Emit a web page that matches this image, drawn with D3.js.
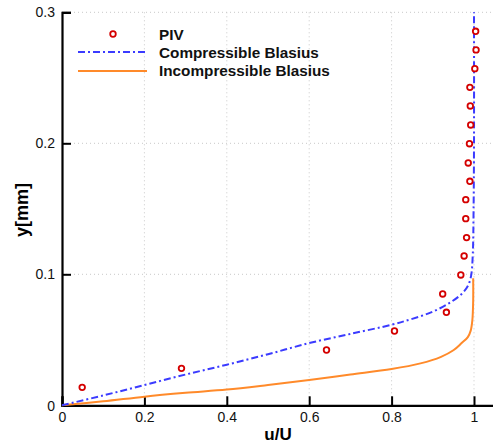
<!DOCTYPE html>
<html>
<head>
<meta charset="utf-8">
<script src="https://cdn.jsdelivr.net/npm/d3@7"></script>
<style>
  body { margin: 0; background: #fff; }
  text { font-family: "Liberation Sans", Arial, sans-serif; }
</style>
</head>
<body>
<svg id="chart" width="493" height="443"></svg>
<script>
// PIV measurements (u/U, y[mm])
const pivU = [0.049, 0.29, 0.642, 0.807, 0.933, 0.924, 0.968, 0.976, 0.982, 0.980, 0.980, 0.990, 0.986, 0.989, 0.992, 0.991, 0.990, 1.002, 1.005, 1.004];
const pivY = [0.0137, 0.0282, 0.0422, 0.0567, 0.071, 0.085, 0.0995, 0.114, 0.128, 0.1425, 0.157, 0.171, 0.185, 0.1997, 0.214, 0.2285, 0.2427, 0.257, 0.2713, 0.2855];

// compressible Blasius profile
const compU = [0, 0.1, 0.2, 0.3, 0.4, 0.5, 0.6, 0.7, 0.8, 0.85, 0.9, 0.94, 0.97, 0.985, 0.993, 0.997, 0.999, 1.0, 1.0];
const compY = [0, 0.0075, 0.0155, 0.0235, 0.031, 0.039, 0.0475, 0.0545, 0.0615, 0.066, 0.0715, 0.078, 0.085, 0.091, 0.099, 0.115, 0.15, 0.2, 0.3];

// incompressible Blasius profile
const incU = [0, 0.1, 0.2, 0.3, 0.4, 0.5, 0.6, 0.7, 0.8, 0.87, 0.92, 0.95, 0.97, 0.985, 0.992, 0.996, 0.998, 0.998];
const incY = [0, 0.003, 0.0066, 0.0095, 0.012, 0.0155, 0.0193, 0.0235, 0.0277, 0.032, 0.037, 0.042, 0.0475, 0.052, 0.057, 0.065, 0.08, 0.097];

const xTicks = [0, 0.2, 0.4, 0.6, 0.8, 1];
const yTicks = [0, 0.1, 0.2, 0.3];

const legendLabels = ['PIV', 'Compressible Blasius', 'Incompressible Blasius'];

const blue = '#3b3bff';
const orange = '#ff8a2a';
const red = '#d40000';

const svg = d3.select('#chart');

const x = d3.scaleLinear().domain([0, 1.05]).range([62, 494.6]);
const y = d3.scaleLinear().domain([0, 0.3]).range([405.3, 12.3]);

// dotted grid
svg.append('g')
	.selectAll('line')
	.data(xTicks.slice(1))
	.join('line')
	.attr('x1', d => x(d)).attr('x2', d => x(d))
	.attr('y1', y(0)).attr('y2', y(0.3))
	.attr('stroke', '#c8c8c8')
	.attr('stroke-width', 1)
	.attr('stroke-dasharray', '1,3');

svg.append('g')
	.selectAll('line')
	.data(yTicks.slice(1))
	.join('line')
	.attr('x1', x(0)).attr('x2', 493)
	.attr('y1', d => y(d)).attr('y2', d => y(d))
	.attr('stroke', '#c8c8c8')
	.attr('stroke-width', 1)
	.attr('stroke-dasharray', '1,3');

// axes
const xAxis = svg.append('g')
	.attr('transform', `translate(0,${y(0)})`)
	.call(d3.axisBottom(x).tickValues(xTicks).tickSize(-9).tickPadding(7)
		.tickFormat(d => d3.format('~g')(d)));
const yAxis = svg.append('g')
	.attr('transform', `translate(${x(0)},0)`)
	.call(d3.axisLeft(y).tickValues(yTicks).tickSize(-9).tickPadding(7)
		.tickFormat(d => d3.format('~g')(d)));

[xAxis, yAxis].forEach(g => {
	g.select('.domain').attr('stroke', '#000').attr('stroke-width', 2.2);
	g.selectAll('.tick line').attr('stroke', '#000').attr('stroke-width', 2);
	g.selectAll('.tick text')
		.attr('fill', '#111')
		.style('font-size', '14px')
		.style('font-family', '"Liberation Sans", Arial, sans-serif');
});
xAxis.selectAll('.tick text').attr('dy', '0.71em');
yAxis.selectAll('.tick text').attr('dy', d => d === 0 ? '0.4em' : '0.32em');

// curves
const line = d3.line()
	.x(d => x(d[0]))
	.y(d => y(d[1]))
	.curve(d3.curveCatmullRom);

svg.append('path')
	.datum(d3.zip(incU, incY))
	.attr('d', line)
	.attr('fill', 'none')
	.attr('stroke', orange)
	.attr('stroke-width', 2);

svg.append('path')
	.datum(d3.zip(compU, compY))
	.attr('d', line)
	.attr('fill', 'none')
	.attr('stroke', blue)
	.attr('stroke-width', 2)
	.attr('stroke-dasharray', '7,3,2,3');

// PIV markers
svg.append('g')
	.selectAll('circle')
	.data(d3.zip(pivU, pivY))
	.join('circle')
	.attr('cx', d => x(d[0]))
	.attr('cy', d => y(d[1]))
	.attr('r', 2.8)
	.attr('fill', '#fff')
	.attr('stroke', red)
	.attr('stroke-width', 1.8);

// legend
const legend = svg.append('g');
legend.append('circle')
	.attr('cx', 113).attr('cy', 34).attr('r', 2.8)
	.attr('fill', '#fff').attr('stroke', red).attr('stroke-width', 1.8);
legend.append('line')
	.attr('x1', 78).attr('x2', 147).attr('y1', 52).attr('y2', 52)
	.attr('stroke', blue).attr('stroke-width', 2).attr('stroke-dasharray', '7,3,2,3');
legend.append('line')
	.attr('x1', 78).attr('x2', 147).attr('y1', 71).attr('y2', 71)
	.attr('stroke', orange).attr('stroke-width', 2);
legend.selectAll('text')
	.data(legendLabels)
	.join('text')
	.attr('x', 159)
	.attr('y', (d, i) => 34 + i * 18.4)
	.attr('dy', '0.36em')
	.style('font-size', '15.3px')
	.style('font-weight', 'bold')
	.attr('fill', '#111')
	.text(d => d);

// axis titles
svg.append('text')
	.attr('x', 278).attr('y', 440)
	.attr('text-anchor', 'middle')
	.style('font-size', '17px')
	.style('font-weight', 'bold')
	.text('u/U');

svg.append('text')
	.attr('transform', 'translate(28,210) rotate(-90)')
	.attr('text-anchor', 'middle')
	.style('font-size', '18px')
	.style('font-weight', 'bold')
	.text('y[mm]');
</script>
</body>
</html>
